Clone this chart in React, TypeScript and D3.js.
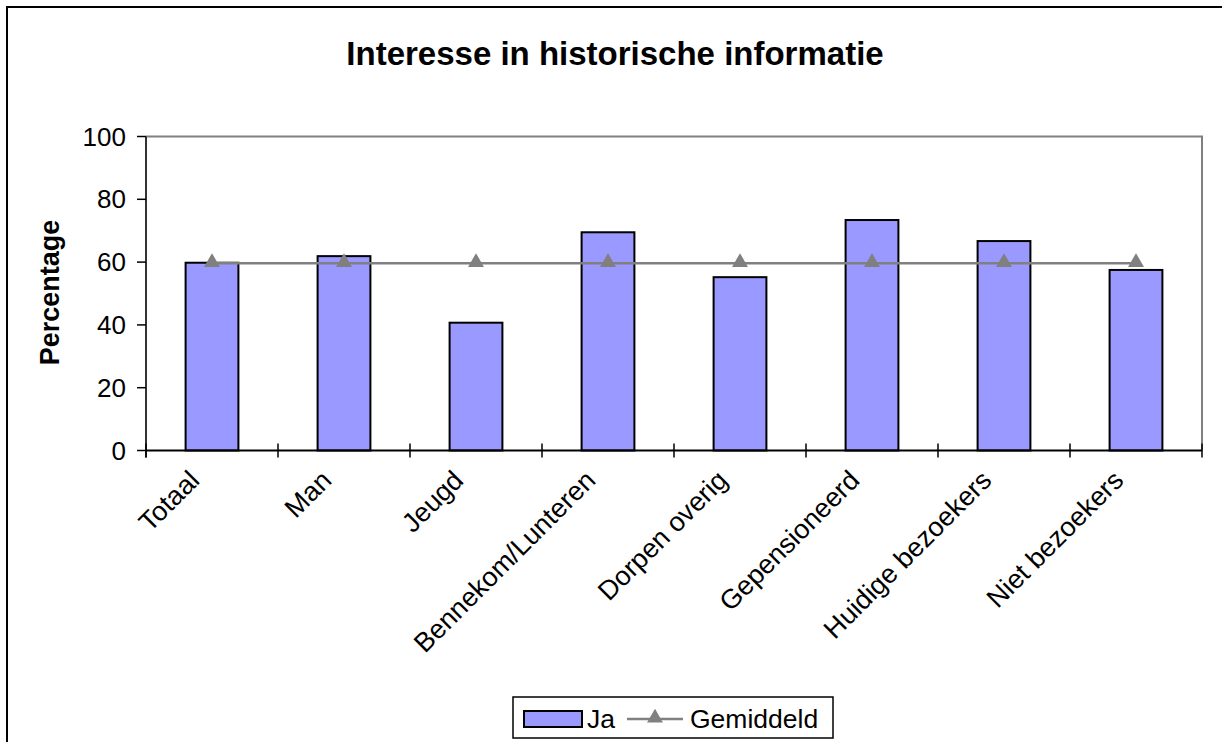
import React from "react";
import * as d3 from "d3";

const categories = ["Totaal", "Man", "Jeugd", "Bennekom/Lunteren", "Dorpen overig", "Gepensioneerd", "Huidige bezoekers", "Niet bezoekers"];
const jaValues = [59.8, 61.9, 40.7, 69.5, 55.2, 73.4, 66.7, 57.5];
const gemiddeldValues = [59.6, 59.6, 59.6, 59.6, 59.6, 59.6, 59.6, 59.6];
const yTicks = [0, 20, 40, 60, 80, 100];
const title = "Interesse in historische informatie";
const yLabel = "Percentage";
const legendLabels = ["Ja", "Gemiddeld"];

const W = 1222, H = 742;
const plot = { left: 146, right: 1202, top: 136.5, bottom: 450.5 };
const FONT = "'Liberation Sans', Arial, sans-serif";
const BAR = "#9999FF";
const GRAY = "#808080";

export default function App() {
  const x = d3.scaleBand().domain(categories).range([plot.left, plot.right]).paddingInner(0).paddingOuter(0);
  const y = d3.scaleLinear().domain([0, 100]).range([plot.bottom, plot.top]);
  const bw = x.bandwidth() * 0.4;
  const cx = (c: string) => (x(c) as number) + x.bandwidth() / 2;
  const line = d3.line<number>().x((_, i) => cx(categories[i])).y((v) => y(v));
  const tri = d3.symbol().type(d3.symbolTriangle).size(110);
  const boundaries = d3.range(categories.length + 1).map((i) => plot.left + i * x.bandwidth());

  return (
    <svg width={W} height={H} style={{ position: "absolute", left: 0, top: 0, background: "#fff" }} fontFamily={FONT}>
      <rect x={0} y={0} width={W} height={H} fill="#fff" />
      <rect x={7} y={7} width={W + 20} height={H + 20} fill="none" stroke="#000" strokeWidth={2} />
      <text x={615} y={65} textAnchor="middle" fontSize={33} fontWeight="bold">{title}</text>
      <text transform={`translate(59,${(plot.top + plot.bottom) / 2 - 1}) rotate(-90)`} textAnchor="middle" fontSize={27} fontWeight="bold">{yLabel}</text>
      {/* plot area border top/right */}
      <path d={`M${plot.left},${plot.top}H${plot.right}V${plot.bottom}`} fill="none" stroke={GRAY} strokeWidth={2} />
      {/* bars */}
      {categories.map((c, i) => (
        <rect key={c} x={cx(c) - bw / 2} y={y(jaValues[i])} width={bw} height={y(0) - y(jaValues[i])} fill={BAR} stroke="#000" strokeWidth={2} />
      ))}
      {/* y axis */}
      <line x1={plot.left} x2={plot.left} y1={plot.top} y2={plot.bottom + 7} stroke="#333" strokeWidth={2} />
      {yTicks.map((t) => (
        <g key={t}>
          <line x1={plot.left - 9} x2={plot.left} y1={y(t)} y2={y(t)} stroke="#000" strokeWidth={1.5} />
          <text x={126} y={y(t)} dy="0.35em" textAnchor="end" fontSize={26}>{t}</text>
        </g>
      ))}
      {/* x axis */}
      <line x1={plot.left} x2={plot.right} y1={plot.bottom} y2={plot.bottom} stroke="#000" strokeWidth={2} />
      {boundaries.map((b, i) => (
        <line key={i} x1={b} x2={b} y1={plot.bottom - 7} y2={plot.bottom + 7} stroke="#000" strokeWidth={1.5} />
      ))}
      {categories.map((c) => (
        <text key={c} transform={`translate(${cx(c) - 11},${482}) rotate(-45)`} textAnchor="end" fontSize={27}>{c}</text>
      ))}
      {/* average line */}
      <path d={line(gemiddeldValues) as string} fill="none" stroke={GRAY} strokeWidth={2.5} />
      {categories.map((c, i) => (
        <path key={c} d={tri() as string} transform={`translate(${cx(c)},${y(gemiddeldValues[i]) - 1})`} fill={GRAY} />
      ))}
      {/* legend */}
      <rect x={513} y={697} width={320} height={41} fill="#fff" stroke="#000" strokeWidth={1.5} />
      <rect x={524} y={711} width={58} height={16} fill={BAR} stroke="#000" strokeWidth={2} />
      <text x={587} y={719} dy="0.35em" fontSize={26.5}>{legendLabels[0]}</text>
      <line x1={627} x2={683} y1={719} y2={719} stroke={GRAY} strokeWidth={2.5} />
      <path d={tri() as string} transform="translate(655,718)" fill={GRAY} />
      <text x={690} y={719} dy="0.35em" fontSize={26.5}>{legendLabels[1]}</text>
    </svg>
  );
}
